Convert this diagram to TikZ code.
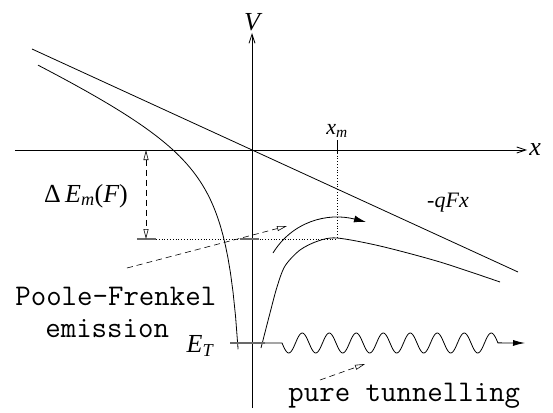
\documentclass[tikz,border=0pt]{standalone}
\usepackage{fontspec}
\setmainfont{Liberation Serif}
\usepackage{tikz}
\usetikzlibrary{arrows.meta,calc,positioning}
\definecolor{lvl}{RGB}{105,105,105}

\begin{document}
\begin{tikzpicture}[x=10pt,y=10pt,line width=0.8pt,>={Triangle[open,length=10pt,width=5pt]},
  lbl/.style={font=\fontsize{22}{26}\selectfont\itshape,inner sep=0pt},
  biglbl/.style={lbl,font=\fontsize{26}{30}\selectfont\itshape},
  ttl/.style={font=\fontsize{30}{32}\selectfont\ttfamily,inner sep=0pt},
  barb/.style={-{Straight Barb[length=9pt,width=6pt]}},
  hint/.style={dash pattern=on 6pt off 4pt,line width=0.6pt}]
  \useasboundingbox (-25.2,-26.2) rectangle (30.1,15.0);
  \draw[barb] (-23.7,0) -- (27.5,0) coordinate (xend);
  \draw[barb] (0,-25.8) -- (0,11.7) coordinate (vend);
  \node[biglbl,right=2pt of xend] (xl) {x};
  \node[biglbl,above=2pt of vend] (vl) {V};
  \draw (-22,10.1) -- (26.6,-12.2);
  \node[lbl] (qfx) at (19.6,-5.3) {-qFx};
  \draw plot[domain=-21.4:-1.39,samples=80] (\x,{-0.459*\x+28.6/\x});
  \draw plot[smooth] coordinates {(0.9,-19.8) (1.8,-16.3) (2.5,-13.7) (3.3,-11.6) (4.8,-10.0) (6.6,-9.1) (8.5,-8.8) (12.8,-9.6) (18.8,-11.2) (24.8,-13.2)};
  \draw (8.5,-0.3) -- (8.5,1.0) coordinate (xmtick);
  \node[lbl,above=2pt of xmtick] (xm) {x\textsubscript{m}};
  \draw[dotted] (8.5,0) -- (8.5,-8.9) coordinate (top);
  \draw[dotted] (-9.6,-8.9) -- (top);
  \draw[lvl,line width=1.4pt] (-11.5,-8.9) -- (-9.6,-8.9) (-1.2,-8.9) -- (0.7,-8.9);
  \draw[hint,<->] (-10.6,0) -- (-10.6,-8.9);
  \node[biglbl] (dem) at (-16.6,-4.6) {{\upshape Δ}\,E\textsubscript{m}{\upshape(}F{\upshape)}};
  \draw[-{Latex[length=12pt,width=7pt]}] (2.1,-10.3) .. controls (4.0,-7.2) and (7.5,-6.2) .. (11.4,-7.2);
  \node[ttl,anchor=base west] (pf) at (-23.7,-15.5) {Poole-Frenkel};
  \node[ttl,anchor=base west] (em) at (-20.7,-18.7) {emission};
  \coordinate (pfs) at (-12.5,-11.8);
  \coordinate (pfe) at (3.5,-7.6);
  \draw[hint,->] (pfs) -- (pfe);
  \draw[lvl,line width=1.4pt] (-2.2,-19.3) -- (1.3,-19.3);
  \draw[-{Latex[length=12pt,width=6pt]}] (1.3,-19.3) -- (3.0,-19.3) -- plot[domain=0:8,samples=241] ({3.0+2.7*\x},{-19.3-sin(360*\x)}) -- (27.3,-19.3);
  \node[biglbl] (et) at (-5.2,-19.6) {E\textsubscript{T}};
  \node[ttl,anchor=base west] (pt) at (3.6,-25.1) {pure tunnelling};
  \coordinate (pts) at (6.8,-23.0);
  \coordinate (pte) at (11.3,-21.4);
  \draw[hint,->] (pts) -- (pte);
\end{tikzpicture}
\end{document}
